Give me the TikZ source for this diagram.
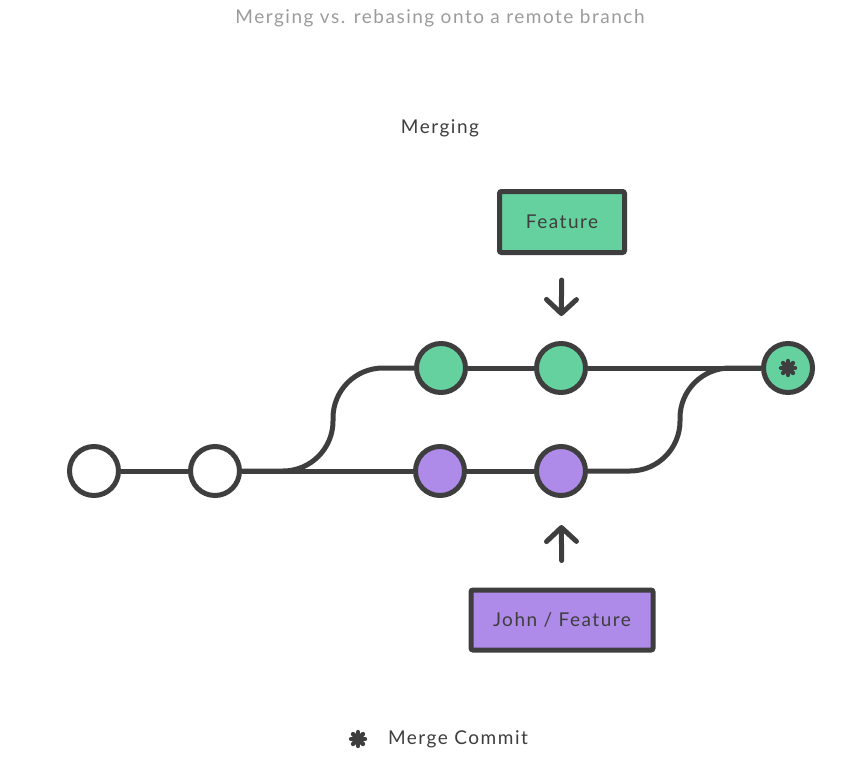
\documentclass[tikz,border=0pt]{standalone}
\usepackage{fontspec}
\setmainfont[LetterSpace=8]{Lato}
\usepackage{xcolor}
\usepackage{tikz}
\usetikzlibrary{arrows.meta, positioning, calc}
\definecolor{gitDark}{HTML}{3E3E3E}
\definecolor{gitGray}{HTML}{9B9B9B}
\definecolor{gitGreen}{HTML}{65D19F}
\definecolor{gitPurple}{HTML}{AE8AE9}

\begin{document}
\begin{tikzpicture}[
    x=0.5pt, y=-0.5pt,
    commit/.style={circle, draw=gitDark, line width=2.5pt, minimum size=24.5pt, inner sep=0pt, fill=white},
    branch/.style={draw=gitDark, line width=2.5pt, rounded corners=1pt, align=center, font=\fontsize{9.5}{11}\selectfont, text=gitDark},
    link/.style={draw=gitDark, line width=2.5pt},
    ptr/.style={draw=gitDark, line width=2.5pt, line cap=round, -{Straight Barb[length=7pt, width=15pt, round]}},
    caption/.style={font=\fontsize{9.5}{11}\selectfont},
    star/.style={gitDark, line width=2.2pt, line cap=round},
]
    \useasboundingbox (0,0) rectangle (860,771);

    \node[caption, text=gitGray] (title) at (440,18) {Merging vs. rebasing onto a remote branch};
    \node[caption, text=gitDark] (head) at (440,128) {Merging};

    % commits
    \node[commit] (c1) at (94,471) {};
    \node[commit] (c2) at (215,471) {};
    \node[commit, fill=gitPurple] (p1) at (440,471) {};
    \node[commit, fill=gitPurple] (p2) at (561,471) {};
    \node[commit, fill=gitGreen] (g1) at (441,368) {};
    \node[commit, fill=gitGreen] (g2) at (561,368) {};
    \node[commit, fill=gitGreen] (m) at (788,368) {};

    \coordinate (fork) at (333,368);
    \coordinate (join) at (680,368);

    \draw[link] (c1) -- (c2) -- (p1) -- (p2);
    \draw[link] (g1) -- (g2) -- (m);
    \draw[link, rounded corners=25pt] (c2.east) -| (fork) -- (g1.west);
    \draw[link, rounded corners=25pt] (p2.east) -| (join) -- (m.west);

    % merge mark
    \foreach \a in {0,45,90,135}
        \draw[star] ($(m)+(\a:7)$) -- ($(m)+(\a+180:7)$);

    % branch labels
    \node[branch, fill=gitGreen, minimum width=62.5pt, minimum height=30.5pt] (feat) at (562,222) {Feature};
    \node[branch, fill=gitPurple, minimum width=91pt, minimum height=30pt] (john) at (562,620) {John / Feature};

    \draw[ptr, shorten <=12.5pt, shorten >=12.5pt] (feat) -- (g2);
    \draw[ptr, shorten <=13.5pt, shorten >=13.5pt] (john) -- (p2);

    % legend
    \coordinate (legmark) at (358,739);
    \foreach \a in {0,45,90,135}
        \draw[star] ($(legmark)+(\a:7)$) -- ($(legmark)+(\a+180:7)$);
    \node[caption, text=gitDark, anchor=west] (legtext) at (381,739) {Merge Commit};
\end{tikzpicture}
\end{document}
